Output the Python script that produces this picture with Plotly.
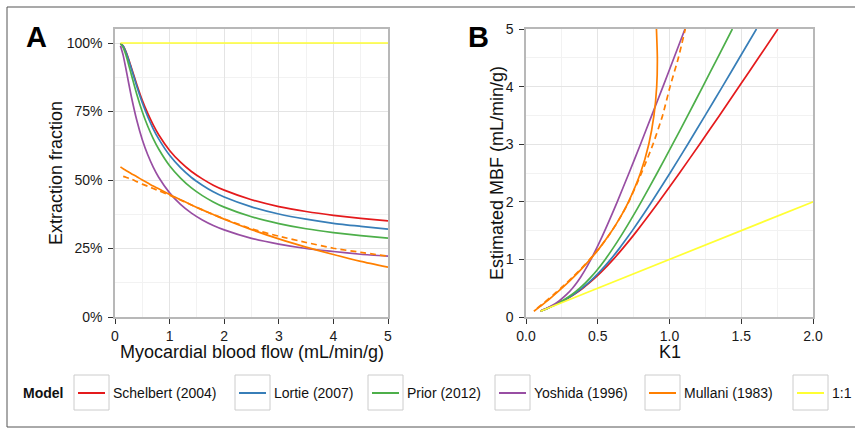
import plotly.graph_objects as go

# ---------------- data ----------------
mbf = [0.1, 0.15, 0.2, 0.25, 0.3, 0.4, 0.5, 0.6, 0.7, 0.8, 1.0, 1.2, 1.4, 1.6,
       1.8, 2.0, 2.5, 3.0, 3.5, 4.0, 4.5, 5.0]

# Panel A: extraction fraction vs myocardial blood flow
ef_schelbert = [0.999, 0.989, 0.969, 0.941, 0.910, 0.848, 0.791, 0.743, 0.701, 0.665,
                0.608, 0.565, 0.531, 0.504, 0.481, 0.463, 0.428, 0.403, 0.385, 0.371,
                0.360, 0.351]
ef_lortie = [0.999, 0.989, 0.967, 0.938, 0.906, 0.841, 0.782, 0.731, 0.687, 0.650,
             0.590, 0.545, 0.509, 0.481, 0.457, 0.438, 0.402, 0.376, 0.357, 0.342,
             0.331, 0.321]
ef_prior = [0.998, 0.983, 0.956, 0.921, 0.884, 0.812, 0.749, 0.696, 0.651, 0.613,
            0.552, 0.507, 0.471, 0.443, 0.420, 0.401, 0.366, 0.341, 0.322, 0.308,
            0.297, 0.288]
ef_yoshida = [0.990, 0.955, 0.906, 0.854, 0.804, 0.717, 0.647, 0.592, 0.547, 0.510,
              0.453, 0.411, 0.379, 0.354, 0.334, 0.318, 0.287, 0.266, 0.250, 0.239,
              0.229, 0.222]
ef_mullani = [0.548, 0.541, 0.535, 0.529, 0.523, 0.512, 0.500, 0.489, 0.478, 0.468,
              0.447, 0.428, 0.409, 0.391, 0.374, 0.357, 0.319, 0.285, 0.255, 0.228,
              0.203, 0.182]
mbf_mullani_alt = [0.15, 0.2, 0.25, 0.3, 0.4, 0.5, 0.6, 0.7, 0.8, 1.0, 1.2, 1.4, 1.6,
                   1.8, 2.0, 2.5, 3.0, 3.5, 4.0, 4.5, 5.0]
ef_mullani_alt = [0.513, 0.510, 0.506, 0.503, 0.494, 0.485, 0.477, 0.469, 0.461, 0.444,
                  0.427, 0.409, 0.391, 0.374, 0.358, 0.322, 0.295, 0.272, 0.251, 0.236,
                  0.222]
mbf_identity = [0.1, 5.0]
ef_identity = [1.0, 1.0]

# Panel B: K1 for each model at the same MBF values
k1_schelbert = [0.0999, 0.1484, 0.1937, 0.2352, 0.2730, 0.3390, 0.3956, 0.4455, 0.4906,
                0.5321, 0.6080, 0.6775, 0.7430, 0.8058, 0.8663, 0.9258, 1.0698, 1.2102,
                1.3482, 1.4848, 1.6205, 1.7555]
k1_lortie = [0.0999, 0.1483, 0.1934, 0.2345, 0.2717, 0.3362, 0.3908, 0.4384, 0.4808,
             0.5198, 0.5899, 0.6534, 0.7126, 0.7690, 0.8233, 0.8762, 1.0038, 1.1274,
             1.2488, 1.3688, 1.4877, 1.6060]
k1_prior = [0.0998, 0.1475, 0.1912, 0.2304, 0.2653, 0.3249, 0.3746, 0.4174, 0.4554,
            0.4901, 0.5521, 0.6079, 0.6600, 0.7091, 0.7567, 0.8028, 0.9140, 1.0218,
            1.1277, 1.2320, 1.3352, 1.4380]
k1_yoshida = [0.0990, 0.1432, 0.1812, 0.2135, 0.2412, 0.2868, 0.3237, 0.3550, 0.3826,
              0.4077, 0.4526, 0.4932, 0.5310, 0.5669, 0.6017, 0.6358, 0.7180, 0.7980,
              0.8764, 0.9544, 1.0314, 1.1080]
k1_mullani = [0.0548, 0.0812, 0.1071, 0.1324, 0.1570, 0.2047, 0.2502, 0.2936, 0.3349,
              0.3742, 0.4472, 0.5130, 0.5722, 0.6251, 0.6723, 0.7142, 0.7978, 0.8556,
              0.8918, 0.9108, 0.9153, 0.9090]
k1_mullani_alt = [0.0770, 0.1020, 0.1265, 0.1509, 0.1976, 0.2425, 0.2862, 0.3283, 0.3688,
                  0.4440, 0.5124, 0.5726, 0.6256, 0.6732, 0.7160, 0.8050, 0.8850, 0.9520,
                  1.0040, 1.0620, 1.1100]
k1_identity = [0.1, 5.0]
mbf_identity_b = [0.1, 5.0]

model_names = ["Schelbert (2004)", "Lortie (2007)", "Prior (2012)", "Yoshida (1996)",
               "Mullani (1983)", "1:1"]
model_colors = ["#E41A1C", "#377EB8", "#4DAF4A", "#984EA3", "#FF7F00", "#FFFF33"]

y_ticks_a = [0, 0.25, 0.5, 0.75, 1.0]
y_ticktext_a = ["0%", "25%", "50%", "75%", "100%"]

# ---------------- figure ----------------
W, H = 855, 429
def px(x):
    return x / W
def py(y):
    return 1 - y / H

FONT = "Liberation Sans, Arial, Helvetica, sans-serif"
LW = 1.7

fig = go.Figure()

series_a = [ef_schelbert, ef_lortie, ef_prior, ef_yoshida, ef_mullani]
series_b = [k1_schelbert, k1_lortie, k1_prior, k1_yoshida, k1_mullani]
for name, col, ya, kb in zip(model_names[:5], model_colors[:5], series_a, series_b):
    fig.add_trace(go.Scatter(x=mbf, y=ya, mode="lines", name=name,
                             line=dict(color=col, width=LW, shape="spline", smoothing=0.6),
                             xaxis="x", yaxis="y", showlegend=False))
    fig.add_trace(go.Scatter(x=kb, y=mbf, mode="lines", name=name,
                             line=dict(color=col, width=LW, shape="spline", smoothing=0.6),
                             xaxis="x2", yaxis="y2", showlegend=False))

fig.add_trace(go.Scatter(x=mbf_mullani_alt, y=ef_mullani_alt, mode="lines",
                         name="Mullani (1983), alt",
                         line=dict(color=model_colors[4], width=LW, dash="6px,4px",
                                   shape="spline", smoothing=0.6),
                         xaxis="x", yaxis="y", showlegend=False))
fig.add_trace(go.Scatter(x=k1_mullani_alt, y=mbf_mullani_alt, mode="lines",
                         name="Mullani (1983), alt",
                         line=dict(color=model_colors[4], width=LW, dash="6px,4px",
                                   shape="spline", smoothing=0.6),
                         xaxis="x2", yaxis="y2", showlegend=False))
fig.add_trace(go.Scatter(x=mbf_identity, y=ef_identity, mode="lines", name="1:1",
                         line=dict(color=model_colors[5], width=LW),
                         xaxis="x", yaxis="y", showlegend=False, cliponaxis=False))
fig.add_trace(go.Scatter(x=k1_identity, y=mbf_identity_b, mode="lines", name="1:1",
                         line=dict(color=model_colors[5], width=LW),
                         xaxis="x2", yaxis="y2", showlegend=False))

grid_major = "#e4e4e4"
grid_minor = "#f2f2f2"
border = "#b8b8b8"
tickfont = dict(family=FONT, size=14, color="#1a1a1a")

def axis(domain, rng, dtick, minor_dtick, anchor, **kw):
    d = dict(domain=domain, range=rng, dtick=dtick, tick0=0, anchor=anchor,
             automargin=False,
             showgrid=True, gridcolor=grid_major, gridwidth=1,
             minor=dict(dtick=minor_dtick, tick0=0, showgrid=True, gridcolor=grid_minor,
                        gridwidth=1, ticks=""),
             showline=True, linecolor=border, linewidth=1.5, mirror=True,
             ticks="outside", ticklen=5, tickwidth=1, tickcolor="#333333",
             tickfont=tickfont, zeroline=False, fixedrange=True)
    d.update(kw)
    return d

fig.update_layout(
    width=W, height=H, autosize=False,
    margin=dict(l=0, r=0, t=0, b=0, pad=0),
    paper_bgcolor="white", plot_bgcolor="white",
    showlegend=False,
    xaxis=axis([px(115), px(388)], [0, 5], 1, 0.5, "y"),
    yaxis=axis([py(317), py(29)], [0, 1.0511], 0.25, 0.125, "x",
               tickmode="array", tickvals=y_ticks_a, ticktext=y_ticktext_a,
               ticklabelstandoff=3),
    xaxis2=axis([px(526), px(813)], [0, 2], 0.5, 0.25, "y2", tickformat=".1f"),
    yaxis2=axis([py(317), py(29)], [0, 5], 1, 0.5, "x2", ticklabelstandoff=3),
)

ann = []
title_font = dict(family=FONT, size=18, color="#111111")
ann.append(dict(text="Myocardial blood flow (mL/min/g)", x=px(251.5), y=py(352),
                xref="paper", yref="paper", showarrow=False, font=title_font,
                xanchor="center", yanchor="middle"))
ann.append(dict(text="Extraction fraction", x=px(56), y=py(173),
                xref="paper", yref="paper", showarrow=False, font=title_font,
                textangle=-90, xanchor="center", yanchor="middle"))
ann.append(dict(text="K1", x=px(669.5), y=py(352),
                xref="paper", yref="paper", showarrow=False, font=title_font,
                xanchor="center", yanchor="middle"))
ann.append(dict(text="Estimated MBF (mL/min/g)", x=px(497), y=py(173),
                xref="paper", yref="paper", showarrow=False, font=title_font,
                textangle=-90, xanchor="center", yanchor="middle"))
panel_font = dict(family=FONT, size=29, color="#000000")
ann.append(dict(text="<b>A</b>", x=px(24), y=py(37), xref="paper", yref="paper",
                showarrow=False, font=panel_font, xanchor="left", yanchor="middle"))
ann.append(dict(text="<b>B</b>", x=px(466), y=py(37), xref="paper", yref="paper",
                showarrow=False, font=panel_font, xanchor="left", yanchor="middle"))

# legend (keys + labels)
legend_font = dict(family=FONT, size=14, color="#111111")
ann.append(dict(text="<b>Model</b>", x=px(21), y=py(393), xref="paper", yref="paper",
                showarrow=False, font=legend_font, xanchor="left", yanchor="middle"))
key_left = [74, 235, 368, 495, 645, 793]
shapes = []
for name, col, kl in zip(model_names, model_colors, key_left):
    shapes.append(dict(type="rect", xref="paper", yref="paper",
                       x0=px(kl), x1=px(kl + 35), y0=py(410), y1=py(375),
                       line=dict(color="#cccccc", width=1), fillcolor="white"))
    shapes.append(dict(type="line", xref="paper", yref="paper",
                       x0=px(kl + 4), x1=px(kl + 31), y0=py(393), y1=py(393),
                       line=dict(color=col, width=2)))
    ann.append(dict(text=name, x=px(kl + 37), y=py(393), xref="paper", yref="paper",
                    showarrow=False, font=legend_font, xanchor="left", yanchor="middle"))

# outer frame of the figure
shapes.append(dict(type="line", xref="paper", yref="paper", x0=px(7), x1=1.0,
                   y0=py(7), y1=py(7), line=dict(color="#a9a9a9", width=2)))
shapes.append(dict(type="line", xref="paper", yref="paper", x0=px(7), x1=px(7),
                   y0=py(7), y1=py(427), line=dict(color="#555555", width=1)))
shapes.append(dict(type="line", xref="paper", yref="paper", x0=px(7), x1=1.0,
                   y0=py(427), y1=py(427), line=dict(color="#555555", width=1)))

fig.update_layout(annotations=ann, shapes=shapes)
fig.write_html("out.html",
               config={"displayModeBar": False},
               post_script="document.body.style.margin='0';"
                           "document.body.style.overflow='hidden';")
